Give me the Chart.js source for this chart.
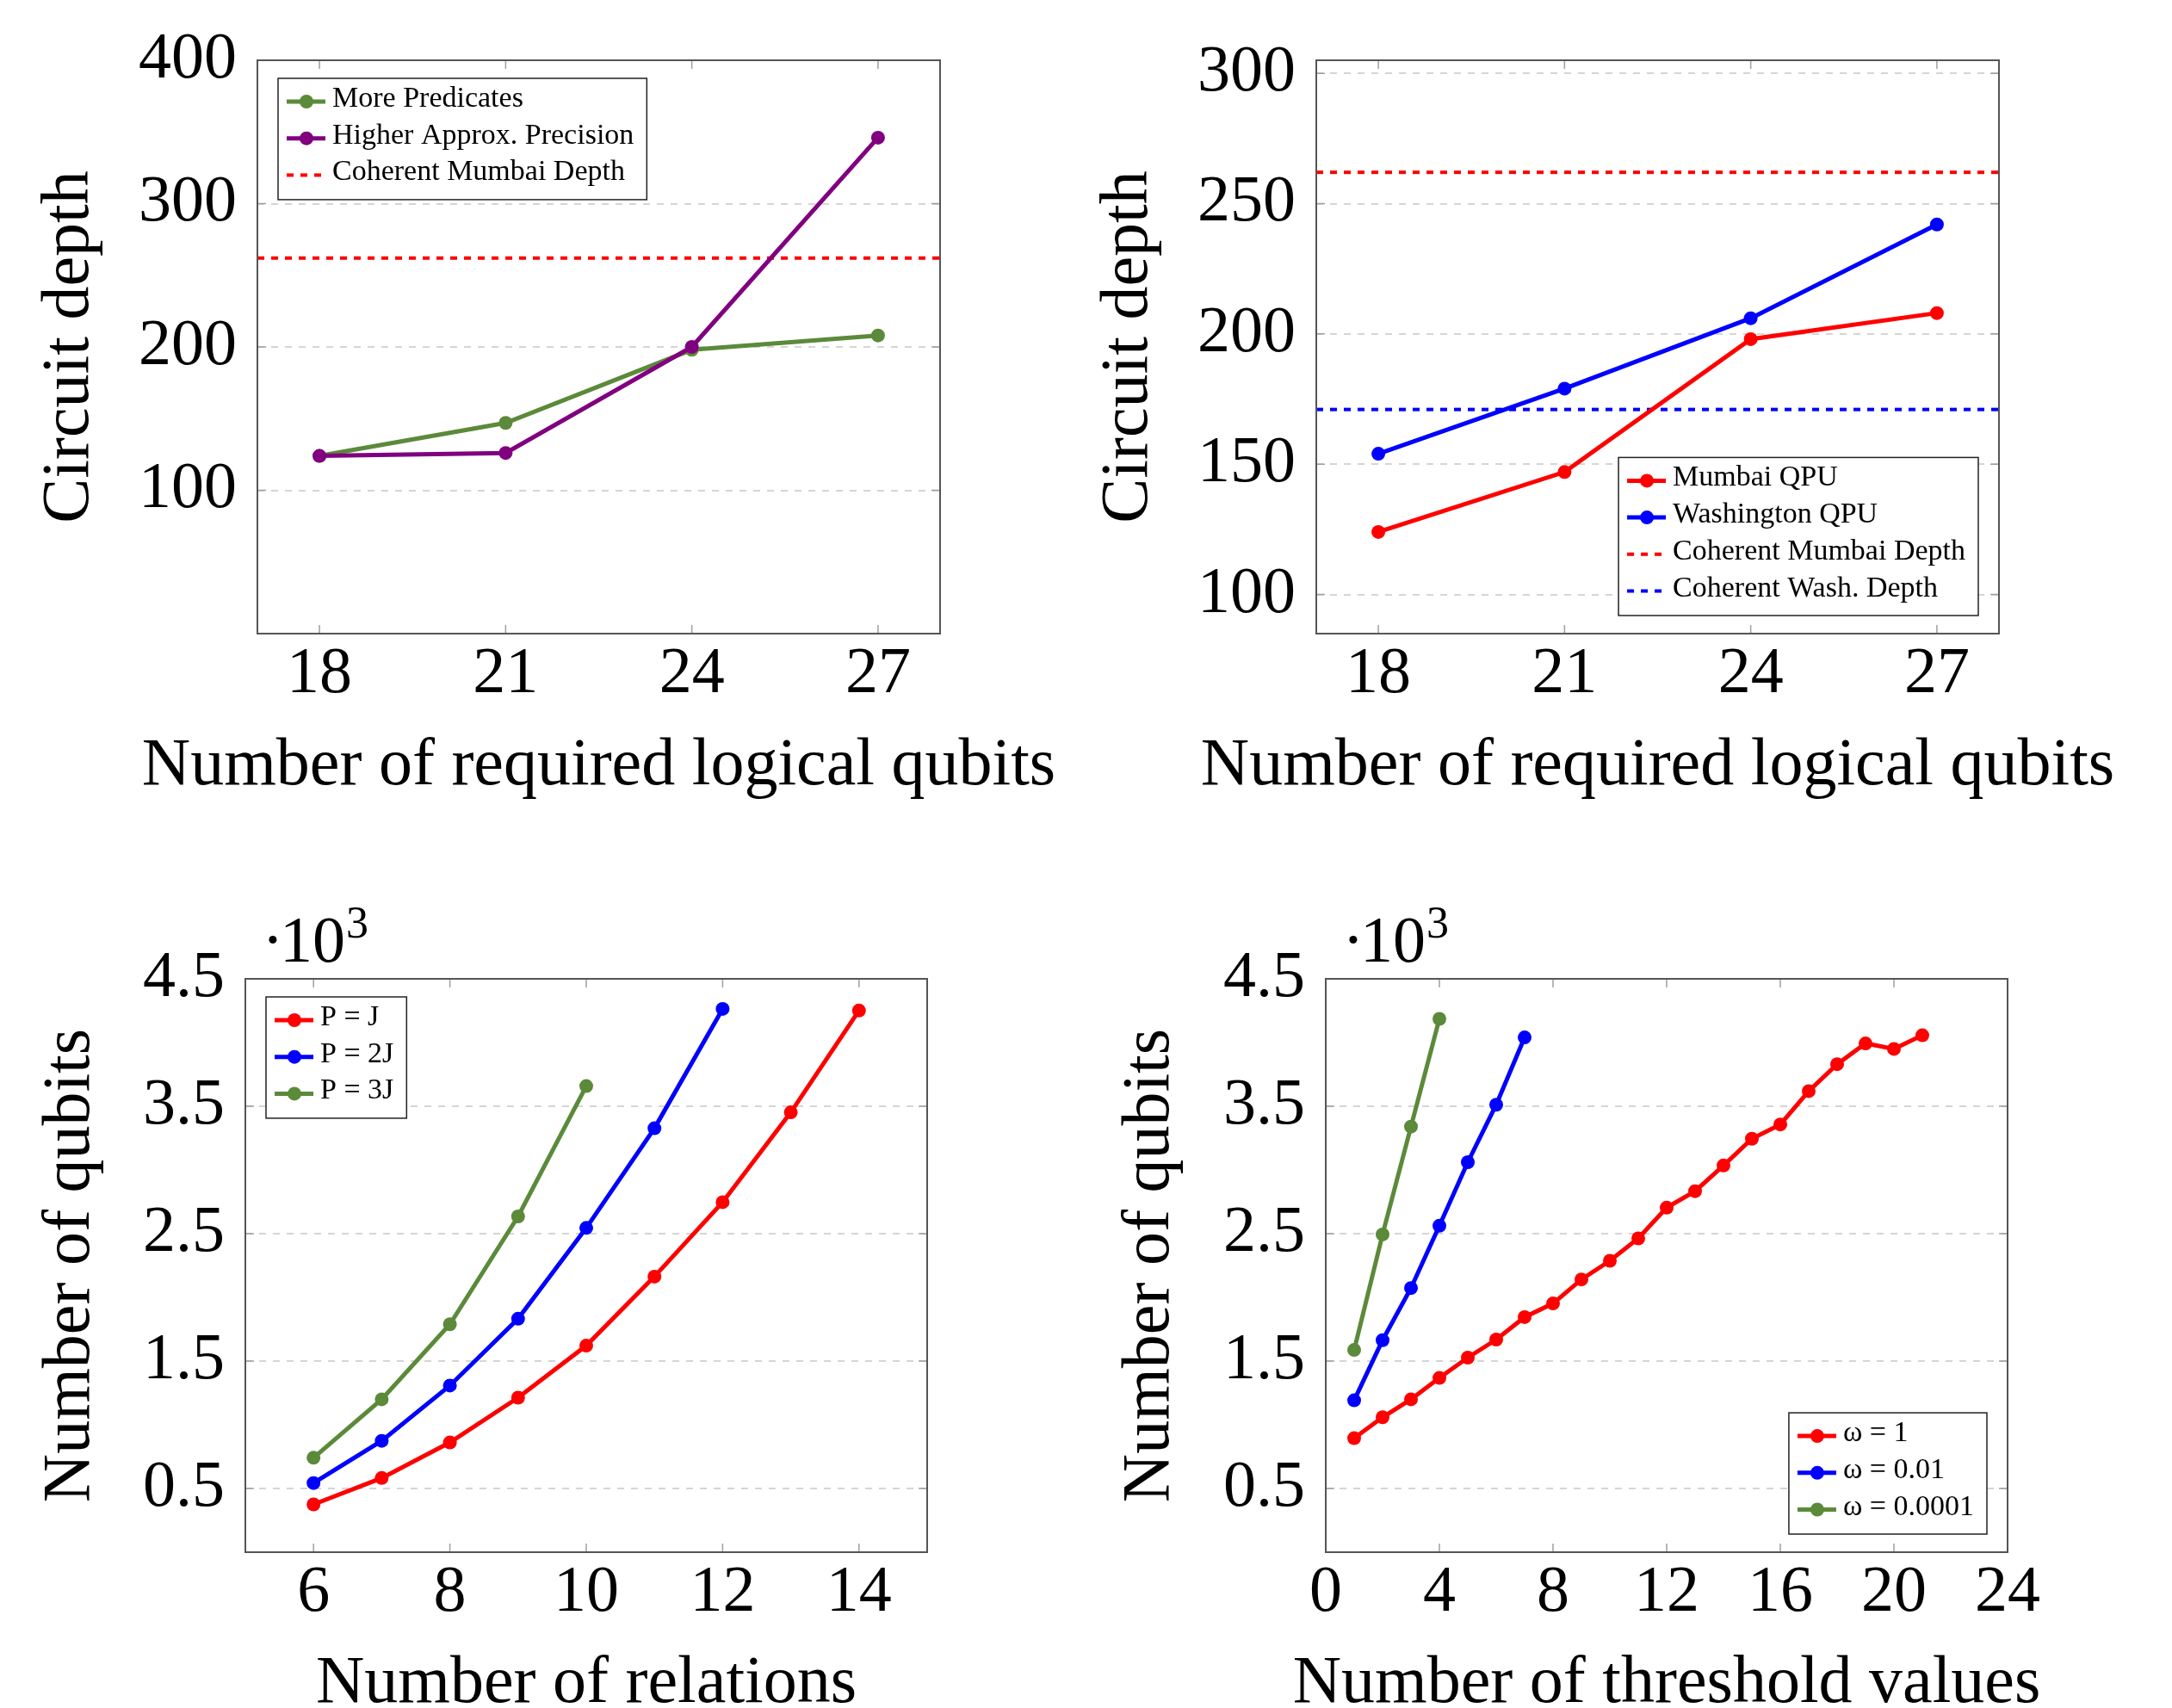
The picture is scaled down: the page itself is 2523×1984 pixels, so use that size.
<!DOCTYPE html>
<html>
<head>
<meta charset="utf-8">
<script src="https://cdn.jsdelivr.net/npm/chart.js@4.4.1/dist/chart.umd.min.js"></script>
<style>
  body { margin: 0; background: #fff; width: 2523px; height: 1984px; overflow: hidden; position: relative; }
  .cell { position: absolute; }
</style>
</head>
<body>
<div class="cell" style="left:0px;top:0px"><canvas id="c1" width="1262" height="992"></canvas></div>
<div class="cell" style="left:1262px;top:0px"><canvas id="c2" width="1261" height="992"></canvas></div>
<div class="cell" style="left:0px;top:992px"><canvas id="c3" width="1262" height="992"></canvas></div>
<div class="cell" style="left:1262px;top:992px"><canvas id="c4" width="1261" height="992"></canvas></div>
<script>
// top row: circuit depth vs logical qubits
var qubitsX = [18, 21, 24, 27];
var qubitsRange = [17, 28];
var morePredicates = [124, 147, 198, 208];
var higherPrecision = [124, 126, 200, 346];
var mumbaiQPU = [124, 147, 198, 208];
var washingtonQPU = [154, 179, 206, 242];
var coherentMumbai = 262;
var coherentWash = 171;
var depthTicks1 = [100, 200, 300, 400];
var depthTicks2 = [100, 150, 200, 250, 300];

// bottom left: qubits vs relations
var relationsRange = [5, 15];
var relationTicks = [6, 8, 10, 12, 14];
var relPJ = [6, 7, 8, 9, 10, 11, 12, 13, 14];
var qubitsPJ = [375, 582, 861, 1213, 1621, 2163, 2747, 3452, 4251];
var relP2J = [6, 7, 8, 9, 10, 11, 12];
var qubitsP2J = [543, 874, 1308, 1832, 2545, 3327, 4264];
var relP3J = [6, 7, 8, 9, 10];
var qubitsP3J = [741, 1200, 1789, 2635, 3658];

// bottom right: qubits vs threshold values
var thresholdRange = [0, 24];
var thresholdTicks = [0, 4, 8, 12, 16, 20, 24];
var thrW1 = [1, 2, 3, 4, 5, 6, 7, 8, 9, 10, 11, 12, 13, 14, 15, 16, 17, 18, 19, 20, 21];
var qubitsW1 = [895, 1059, 1200, 1368, 1527, 1669, 1845, 1952, 2141, 2287, 2463, 2704, 2833, 3035, 3245, 3357, 3619, 3830, 3993, 3950, 4057];
var thrW2 = [1, 2, 3, 4, 5, 6, 7];
var qubitsW2 = [1192, 1664, 2073, 2562, 3061, 3512, 4040];
var thrW4 = [1, 2, 3, 4];
var qubitsW4 = [1587, 2494, 3340, 4186];
var qubitTicks = [500, 1500, 2500, 3500, 4500];
var qubitRange = [0, 4500];

var RED = '#ff0000', BLUE = '#0000ff', GREEN = '#5b8a3a', PURPLE = '#800080';
var FONT = "'Liberation Serif', serif";
Chart.defaults.font.family = FONT;
Chart.defaults.color = '#000';

function series(label, xs, ys, color, order) {
    return {
        label: label,
        data: xs.map(function(x, i) { return {x: x, y: ys[i]}; }),
        borderColor: color,
        backgroundColor: color,
        pointBackgroundColor: color,
        borderWidth: 5,
        pointRadius: 8,
        pointBorderWidth: 0,
        tension: 0,
        fill: false,
        order: order
    };
}

function hline(label, range, value, color) {
    return {
        label: label,
        data: range.map(function(x) { return {x: x, y: value}; }),
        borderColor: color,
        backgroundColor: color,
        borderWidth: 4,
        borderDash: [8, 8],
        pointRadius: 0,
        fill: false,
        order: 5
    };
}

// pgfplots look: dashed grid, framed box, inward ticks, boxed legend, titles
var pgfPlugin = {
    id: 'pgf',
    beforeDatasetsDraw: function(chart) {
        var ctx = chart.ctx, a = chart.chartArea, ys = chart.scales.y;
        ctx.save();
        ctx.strokeStyle = '#c8c8c8';
        ctx.lineWidth = 1.5;
        ctx.setLineDash([8, 8]);
        ys.ticks.forEach(function(t) {
            var py = Math.round(ys.getPixelForValue(t.value));
            if (py > a.top + 2 && py < a.bottom - 2) {
                ctx.beginPath();
                ctx.moveTo(a.left, py);
                ctx.lineTo(a.right, py);
                ctx.stroke();
            }
        });
        ctx.restore();
    },
    afterDatasetsDraw: function(chart, args, opts) {
        var ctx = chart.ctx, a = chart.chartArea;
        var xs = chart.scales.x, ys = chart.scales.y;
        ctx.save();
        // inward ticks
        ctx.strokeStyle = '#a0a0a0';
        ctx.lineWidth = 1.5;
        ctx.beginPath();
        xs.ticks.forEach(function(t) {
            var px = xs.getPixelForValue(t.value);
            ctx.moveTo(px, a.bottom); ctx.lineTo(px, a.bottom - 10);
            ctx.moveTo(px, a.top); ctx.lineTo(px, a.top + 10);
        });
        ys.ticks.forEach(function(t) {
            var py = ys.getPixelForValue(t.value);
            ctx.moveTo(a.left, py); ctx.lineTo(a.left + 10, py);
            ctx.moveTo(a.right, py); ctx.lineTo(a.right - 10, py);
        });
        ctx.stroke();
        // frame
        ctx.strokeStyle = '#555';
        ctx.lineWidth = 2;
        ctx.strokeRect(a.left, a.top, a.right - a.left, a.bottom - a.top);

        ctx.fillStyle = '#000';
        // axis titles
        ctx.font = '78px ' + FONT;
        ctx.textBaseline = 'alphabetic';
        ctx.textAlign = 'center';
        ctx.fillText(opts.xTitle, (a.left + a.right) / 2, opts.xTitleBase);
        ctx.save();
        ctx.translate(opts.yTitleBase, (a.top + a.bottom) / 2);
        ctx.rotate(-Math.PI / 2);
        ctx.fillText(opts.yTitle, 0, 0);
        ctx.restore();

        // exponent label
        if (opts.exponent) {
            ctx.textAlign = 'center';
            ctx.font = '76px ' + FONT;
            ctx.fillText('\u00b7', a.left + 32, a.top - 20);
            ctx.textAlign = 'left';
            ctx.fillText('10', a.left + 40, a.top - 20);
            var w10 = ctx.measureText('10').width;
            ctx.font = '52px ' + FONT;
            ctx.fillText('3', a.left + 40 + w10 + 1, a.top - 48);
        }

        // legend
        if (opts.legend) {
            var dsets = chart.data.datasets;
            ctx.font = '34px ' + FONT;
            ctx.textAlign = 'left';
            var tw = 0;
            dsets.forEach(function(d) { tw = Math.max(tw, ctx.measureText(d.label).width); });
            var bw = 64 + tw + 14;
            var rowH = 42.7;
            var bh = 27 + (dsets.length - 1) * rowH + 28.5;
            var bx, by;
            if (opts.legend === 'nw') { bx = a.left + 24; by = a.top + 21; }
            else { bx = a.right - 24 - bw; by = a.bottom - 21 - bh; }
            ctx.fillStyle = '#fff';
            ctx.fillRect(bx, by, bw, bh);
            ctx.strokeStyle = '#222';
            ctx.lineWidth = 1.5;
            ctx.strokeRect(bx, by, bw, bh);
            dsets.forEach(function(d, i) {
                var ry = by + 27 + i * rowH;
                ctx.strokeStyle = d.borderColor;
                ctx.lineWidth = d.borderWidth;
                ctx.setLineDash(d.borderDash || []);
                ctx.beginPath();
                ctx.moveTo(bx + 10, ry);
                ctx.lineTo(bx + 55, ry);
                ctx.stroke();
                ctx.setLineDash([]);
                if (d.pointRadius > 0) {
                    ctx.fillStyle = d.borderColor;
                    ctx.beginPath();
                    ctx.arc(bx + 33, ry, d.pointRadius, 0, Math.PI * 2);
                    ctx.fill();
                }
                ctx.fillStyle = '#000';
                ctx.fillText(d.label, bx + 63, ry + 6);
            });
        }
        ctx.restore();
    }
};

function makeChart(id, o) {
    return new Chart(document.getElementById(id), {
        type: 'line',
        data: { datasets: o.datasets },
        options: {
            responsive: false,
            animation: false,
            events: [],
            layout: { padding: { left: 0, top: o.top, right: o.right, bottom: 0 } },
            scales: {
                x: {
                    type: 'linear',
                    min: o.xRange[0],
                    max: o.xRange[1],
                    afterBuildTicks: function(s) { s.ticks = o.xTicks.map(function(v) { return {value: v}; }); },
                    afterFit: function(s) { s.height = o.xHeight; },
                    grid: { display: false, drawTicks: false },
                    border: { display: false },
                    ticks: { autoSkip: false, maxRotation: 0, padding: 2, color: '#000',
                             font: { family: FONT, size: 76 },
                             callback: function(v) { return String(v); } },
                    title: { display: false }
                },
                y: {
                    type: 'linear',
                    min: o.yRange[0],
                    max: o.yRange[1],
                    afterBuildTicks: function(s) { s.ticks = o.yTicks.map(function(v) { return {value: v}; }); },
                    afterFit: function(s) { s.width = o.yWidth; },
                    grid: { display: false, drawTicks: false },
                    border: { display: false },
                    ticks: { autoSkip: false, padding: 24, color: '#000',
                             font: { family: FONT, size: 76 },
                             callback: o.yFormat || function(v) { return String(v); } },
                    title: { display: false }
                }
            },
            plugins: {
                legend: { display: false },
                tooltip: { enabled: false },
                pgf: {
                    legend: o.legend, exponent: !!o.exponent,
                    xTitle: o.xTitle, yTitle: o.yTitle,
                    xTitleBase: o.xTitleBase, yTitleBase: o.yTitleBase
                }
            }
        },
        plugins: [pgfPlugin]
    });
}

function thousands(v) { return (v / 1000).toFixed(1); }

makeChart('c1', {
    datasets: [
        series('More Predicates', qubitsX, morePredicates, GREEN, 2),
        series('Higher Approx. Precision', qubitsX, higherPrecision, PURPLE, 1),
        hline('Coherent Mumbai Depth', qubitsRange, coherentMumbai, RED)
    ],
    xRange: qubitsRange, xTicks: qubitsX, yRange: [0, 400], yTicks: depthTicks1,
    top: 70, right: 170, yWidth: 299, xHeight: 256,
    xTitle: 'Number of required logical qubits', yTitle: 'Circuit depth',
    xTitleBase: 911, yTitleBase: 102, legend: 'nw'
});

makeChart('c2', {
    datasets: [
        series('Mumbai QPU', qubitsX, mumbaiQPU, RED, 1),
        series('Washington QPU', qubitsX, washingtonQPU, BLUE, 2),
        hline('Coherent Mumbai Depth', qubitsRange, coherentMumbai, RED),
        hline('Coherent Wash. Depth', qubitsRange, coherentWash, BLUE)
    ],
    xRange: qubitsRange, xTicks: qubitsX, yRange: [85, 305], yTicks: depthTicks2,
    top: 70, right: 201, yWidth: 267, xHeight: 256,
    xTitle: 'Number of required logical qubits', yTitle: 'Circuit depth',
    xTitleBase: 911, yTitleBase: 70, legend: 'se'
});

makeChart('c3', {
    datasets: [
        series('P = J', relPJ, qubitsPJ, RED, 1),
        series('P = 2J', relP2J, qubitsP2J, BLUE, 2),
        series('P = 3J', relP3J, qubitsP3J, GREEN, 3)
    ],
    xRange: relationsRange, xTicks: relationTicks, yRange: qubitRange, yTicks: qubitTicks,
    yFormat: thousands,
    top: 145, right: 185, yWidth: 285, xHeight: 181,
    xTitle: 'Number of relations', yTitle: 'Number of qubits',
    xTitleBase: 985, yTitleBase: 103, legend: 'nw', exponent: true
});

makeChart('c4', {
    datasets: [
        series('\u03c9 = 1', thrW1, qubitsW1, RED, 1),
        series('\u03c9 = 0.01', thrW2, qubitsW2, BLUE, 2),
        series('\u03c9 = 0.0001', thrW4, qubitsW4, GREEN, 3)
    ],
    xRange: thresholdRange, xTicks: thresholdTicks, yRange: qubitRange, yTicks: qubitTicks,
    yFormat: thousands,
    top: 145, right: 191, yWidth: 278, xHeight: 181,
    xTitle: 'Number of threshold values', yTitle: 'Number of qubits',
    xTitleBase: 985, yTitleBase: 95, legend: 'se', exponent: true
});
</script>
</body>
</html>
